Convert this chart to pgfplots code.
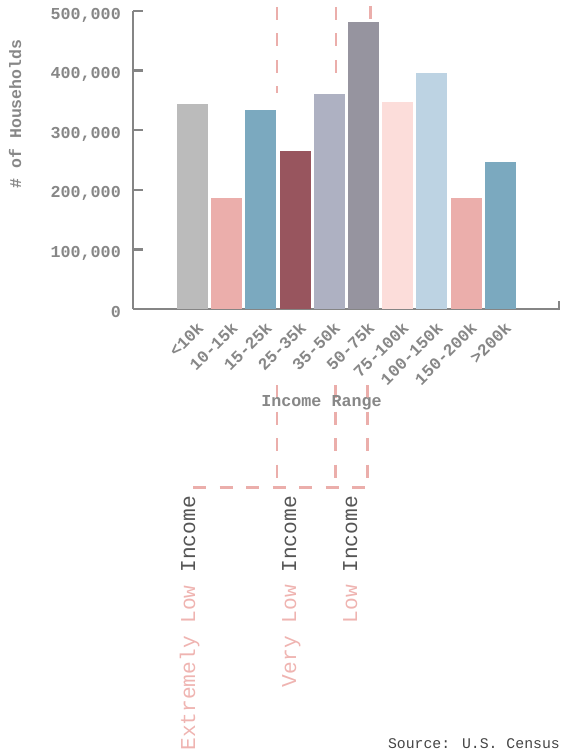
\documentclass[border=0pt]{standalone}
\usepackage{pgfplots}
\pgfplotsset{compat=1.18}
\usepackage{fontspec}
\setmainfont{Liberation Mono}
\definecolor{axisgray}{HTML}{858585}
\definecolor{labgray}{HTML}{878787}
\definecolor{pinkline}{HTML}{EBAEAB}
\definecolor{pinktext}{HTML}{EFB4B1}
\definecolor{darktext}{HTML}{555555}
\definecolor{cA}{HTML}{BBBBBB}
\definecolor{cB}{HTML}{EBAEAB}
\definecolor{cC}{HTML}{7BA9BF}
\definecolor{cD}{HTML}{98555E}
\definecolor{cE}{HTML}{AEB1C2}
\definecolor{cF}{HTML}{96949F}
\definecolor{cG}{HTML}{FCDDDA}
\definecolor{cH}{HTML}{BDD3E3}
\begin{document}
\begin{tikzpicture}
\useasboundingbox (0,0) rectangle (561pt,-749pt);
% dashed annotation lines (background)
\begin{scope}[draw=pinkline, line width=2.7pt, dash pattern=on 13pt off 13.5pt]
\draw (277pt,-7pt) -- (277pt,-93pt);
\draw (336pt,-7pt) -- (336pt,-73pt);
\draw (370.5pt,-6pt) -- (370.5pt,-30pt);
\draw (277pt,-385pt) -- (277pt,-487.5pt);
\draw (335.5pt,-385pt) -- (335.5pt,-487.5pt);
\draw (367.5pt,-385pt) -- (367.5pt,-487.5pt);
\draw (193pt,-487.5pt) -- (367.5pt,-487.5pt);
\end{scope}
\begin{axis}[
  at={(133pt,-309pt)}, anchor=south west,
  scale only axis, width=426pt, height=298pt,
  xmin=-1.74, xmax=10.72, ymin=0, ymax=500000,
  clip=false,
  axis x line=bottom, axis y line=left,
  axis line style={-, draw=axisgray, line width=2.5pt},
  xtick={0,...,9},
  xticklabels={<10k,10-15k,15-25k,25-35k,35-50k,50-75k,75-100k,100-150k,150-200k,>200k},
  xtick style={draw=none},
  ytick={0,100000,200000,300000,400000,500000},
  yticklabels={0,{100,000},{200,000},{300,000},{400,000},{500,000}},
  scaled y ticks=false,
  major tick length=10pt, tick align=inside,
  ytick style={draw=axisgray, line width=2.5pt},
  tick label style={font=\fontsize{16.7}{18}\selectfont\bfseries, text=labgray},
  yticklabel style={anchor=base east, inner sep=0pt, xshift=-12pt, yshift=-8pt},
  xticklabel style={inner sep=0pt, xshift=8pt, yshift=-16pt, rotate=45, anchor=east},
]
\addplot[ybar, bar width=31pt, fill=cA, draw=none] coordinates {(0,344000)};
\addplot[ybar, bar width=31pt, fill=cB, draw=none] coordinates {(1,186000)};
\addplot[ybar, bar width=31pt, fill=cC, draw=none] coordinates {(2,334000)};
\addplot[ybar, bar width=31pt, fill=cD, draw=none] coordinates {(3,265000)};
\addplot[ybar, bar width=31pt, fill=cE, draw=none] coordinates {(4,361000)};
\addplot[ybar, bar width=31pt, fill=cF, draw=none] coordinates {(5,481000)};
\addplot[ybar, bar width=31pt, fill=cG, draw=none] coordinates {(6,347000)};
\addplot[ybar, bar width=31pt, fill=cH, draw=none] coordinates {(7,396000)};
\addplot[ybar, bar width=31pt, fill=cB, draw=none] coordinates {(8,186000)};
\addplot[ybar, bar width=31pt, fill=cC, draw=none] coordinates {(9,247000)};
\end{axis}
\draw[axisgray, line width=2pt] (559pt,-310pt) -- (559pt,-301pt);
\node[rotate=90, font=\fontsize{16.5}{18}\selectfont\bfseries, text=labgray] at (15pt,-114pt) {\# of Households};
\node[anchor=base, font=\fontsize{16.7}{18}\selectfont\bfseries, text=labgray] at (321.5pt,-406.5pt) {Income Range};
\node[anchor=base east, inner sep=0pt, font=\fontsize{14.8}{16}\selectfont, text=darktext!80!black] at (560pt,-748pt) {Source: U.S. Census};
\begin{scope}[font=\fontsize{21.2}{24}\selectfont]
\node[rotate=90, anchor=base east, inner sep=0pt] at (195pt,-496pt) {\textcolor{pinktext}{Extremely Low} \textcolor{darktext}{Income}};
\node[rotate=90, anchor=base east, inner sep=0pt] at (296pt,-496pt) {\textcolor{pinktext}{Very Low} \textcolor{darktext}{Income}};
\node[rotate=90, anchor=base east, inner sep=0pt] at (357pt,-496pt) {\textcolor{pinktext}{Low} \textcolor{darktext}{Income}};
\end{scope}
\end{tikzpicture}
\end{document}
